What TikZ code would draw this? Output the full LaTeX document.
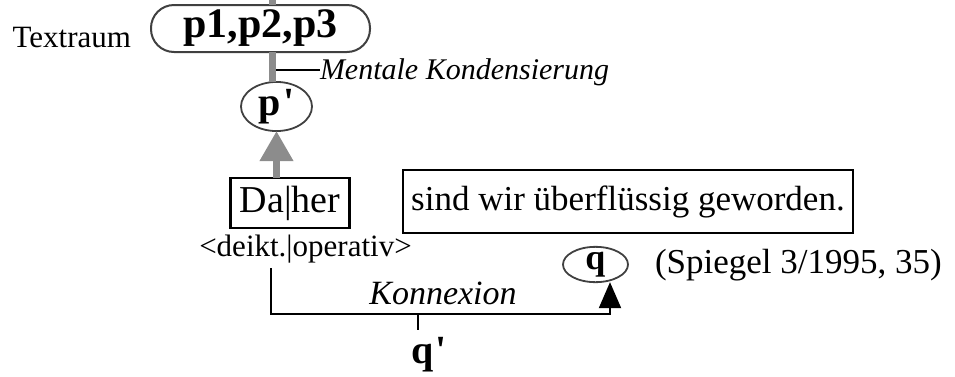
\documentclass[tikz,border=0pt]{standalone}
\usepackage{fontspec}
\setmainfont{Liberation Serif}
\newfontfamily\straightfont{Liberation Serif}
\usetikzlibrary{arrows.meta, positioning, shapes.geometric}
\newcommand{\strich}{{\straightfont\bfseries\char"27}}

\begin{document}
\begin{tikzpicture}[x=0.5pt, y=-0.5pt,
    every node/.append style={inner sep=0pt, outer sep=0pt},
    capsule/.style={draw=black!75, line width=1pt, rounded corners=11.5pt,
        minimum width=109.5pt, minimum height=23.5pt,
        font=\fontsize{21}{21}\selectfont\bfseries},
    unit/.style={draw=black!75, line width=0.9pt, ellipse,
        font=\fontsize{20}{20}\selectfont\bfseries},
    wordbox/.style={draw, line width=1.1pt, minimum height=25pt},
    label/.style={font=\fontsize{15.5}{15.5}\selectfont},
    script/.style={font=\fontsize{15}{15}\selectfont\itshape},
    grayline/.style={draw=black!45, line width=3.5pt},
    grayarrow/.style={draw=black!45, fill=black!45, line width=3.5pt,
        -{Triangle[length=15pt, width=16pt]}},
    conn/.style={draw, line width=1pt}]
  \useasboundingbox (0,0) rectangle (955,376);

  % Textraum
  \node[capsule] (textraum) at (260.5,28.5) {p1,p2,p3};
  \node[label, anchor=east] (traum) at (131,37) {Textraum};
  \coordinate (top) at (272,0);
  \draw[grayline] (top) -- (top |- textraum.north);

  % Kondensierung
  \node[unit, minimum width=35.5pt, minimum height=21.5pt] (pstrich) at (276.5,106.5) {p\kern1pt\strich};
  \draw[grayline] (top |- textraum.south) -- (top |- pstrich.north);
  \coordinate (mtick) at (276,70);
  \node[script, anchor=west] (mentale) at (320,72) {Mentale Kondensierung};
  \draw[conn] (mtick) -- (mtick -| mentale.west);

  % Satz
  \node[wordbox, minimum width=59.5pt, font=\fontsize{19}{19}\selectfont] (daher) at (290,203) {Da|her};
  \node[label] (deikt) at (305.5,249) {<deikt.|operativ>};
  \node[wordbox, minimum width=225pt, minimum height=31.5pt, font=\fontsize{17.5}{17.5}\selectfont] (satz) at (628,201.5) {sind wir überflüssig geworden.};
  \draw[grayarrow] (pstrich.south |- daher.north) -- (pstrich.south);

  % Konnexion
  \node[unit, minimum width=32.5pt, minimum height=16.5pt, font=\fontsize{18}{18}\selectfont\bfseries] (q) at (595.5,264.5) {q};
  \node[label, font=\fontsize{17.5}{17.5}\selectfont, anchor=west] (quelle) at (655,265) {(Spiegel 3/1995, 35)};
  \coordinate (kstart) at (271,268);
  \coordinate (kbend) at (610,314);
  \draw[conn, -{Triangle[length=13pt, width=11pt]}] (kstart) |- (kbend) -- (kbend |- q.south);
  \node[script, font=\fontsize{17}{17}\selectfont\itshape] (konnexion) at (443,293) {Konnexion};
  \node[unit, draw=none] (qstrich) at (429,355) {q\kern1pt\strich};
  \coordinate (qtick) at (418,314);
  \draw[conn] (qtick) -- (qtick |- qstrich.north);
\end{tikzpicture}
\end{document}
